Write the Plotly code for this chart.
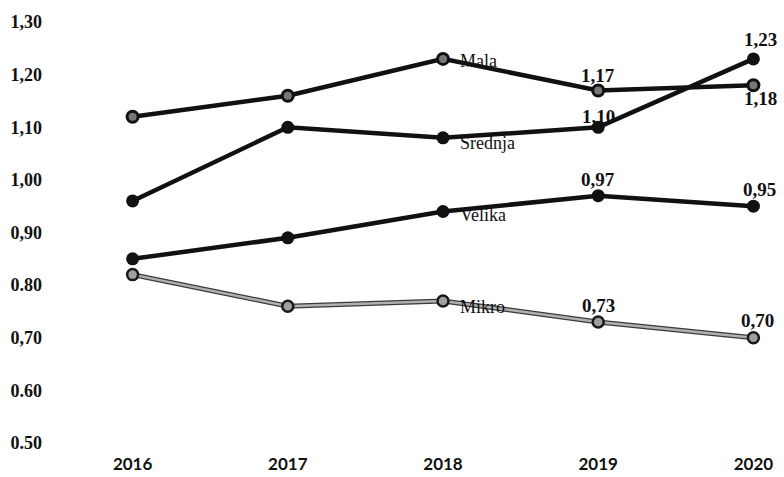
import plotly.graph_objects as go

years = [2016, 2017, 2018, 2019, 2020]
mala = [1.12, 1.16, 1.23, 1.17, 1.18]
srednja = [0.96, 1.10, 1.08, 1.10, 1.23]
velika = [0.85, 0.89, 0.94, 0.97, 0.95]
mikro = [0.82, 0.76, 0.77, 0.73, 0.70]

ytick_vals = [0.5, 0.6, 0.7, 0.8, 0.9, 1.0, 1.1, 1.2, 1.3]
ytick_text = ["0.50", "0.60", "0,70", "0.80", "0,90", "1,00", "1,10", "1,20", "1,30"]

SERIF = "Liberation Serif, Times New Roman, serif"
SANS = "Lato, Open Sans, sans-serif"

fig = go.Figure()

# Mikro: gray textured line (dark under-stroke + gray core)
fig.add_trace(go.Scatter(x=years, y=mikro, mode="lines",
                         line=dict(color="#3a3a3a", width=5), hoverinfo="skip", showlegend=False))
fig.add_trace(go.Scatter(x=years, y=mikro, mode="lines+markers",
                         line=dict(color="#b0b0b0", width=2.5),
                         marker=dict(size=11, color="#a0a0a0", line=dict(color="#1a1a1a", width=2.5)),
                         name="Mikro", showlegend=False))

fig.add_trace(go.Scatter(x=years, y=velika, mode="lines+markers",
                         line=dict(color="#111111", width=4.5),
                         marker=dict(size=13, color="#111111"),
                         name="Velika", showlegend=False))
fig.add_trace(go.Scatter(x=years, y=srednja, mode="lines+markers",
                         line=dict(color="#111111", width=4.5),
                         marker=dict(size=13, color="#111111"),
                         name="Srednja", showlegend=False))
fig.add_trace(go.Scatter(x=years, y=mala, mode="lines+markers",
                         line=dict(color="#111111", width=4.5),
                         marker=dict(size=11, color="#777777", line=dict(color="#111111", width=3)),
                         name="Mala", showlegend=False))

def fmt(v):
    return f"{v:.2f}".replace(".", ",")

# series name labels near 2018 point
names = [("Mala", mala, -2), ("Srednja", srednja, -5), ("Velika", velika, -4), ("Mikro", mikro, -6)]
for name, vals, ys in names:
    fig.add_annotation(x=years[2], y=vals[2], text=name, showarrow=False,
                       xanchor="left", yanchor="middle", xshift=15, yshift=ys,
                       font=dict(family=SERIF, size=18, color="#111111"))

# value labels for 2019 and 2020
value_labels = [
    (years[3], mala[3], 15, 0), (years[4], mala[4], -13, 7),
    (years[3], srednja[3], 11, 0), (years[4], srednja[4], 19, 7),
    (years[3], velika[3], 16, 0), (years[4], velika[4], 17, 6),
    (years[3], mikro[3], 16, 0), (years[4], mikro[4], 17, 4),
]
for x, v, ys, xs in value_labels:
    fig.add_annotation(x=x, y=v, text=f"<b>{fmt(v)}</b>", showarrow=False,
                       xanchor="center", yanchor="middle", yshift=ys, xshift=xs,
                       font=dict(family=SERIF, size=19, color="#111111"))

fig.update_layout(
    width=784, height=477,
    margin=dict(l=45, r=10, t=10, b=30),
    paper_bgcolor="white", plot_bgcolor="white",
    font=dict(family=SERIF, color="#111111"),
    xaxis=dict(range=[2015.4356, 2020.1327], tickvals=years,
               ticktext=[f"<b>{y}</b>" for y in years],
               showgrid=False, zeroline=False, showline=False, automargin=False,
               tickfont=dict(family=SANS, size=17, color="#111111"),
               ticklabelstandoff=5),
    yaxis=dict(range=[0.4924, 1.3229], tickvals=ytick_vals,
               ticktext=[f"<b>{t}</b>" for t in ytick_text],
               showgrid=False, zeroline=False, showline=False, automargin=False,
               tickfont=dict(family=SERIF, size=18, color="#111111"),
               ticklabelstandoff=2),
)

fig.write_html("out.html")
